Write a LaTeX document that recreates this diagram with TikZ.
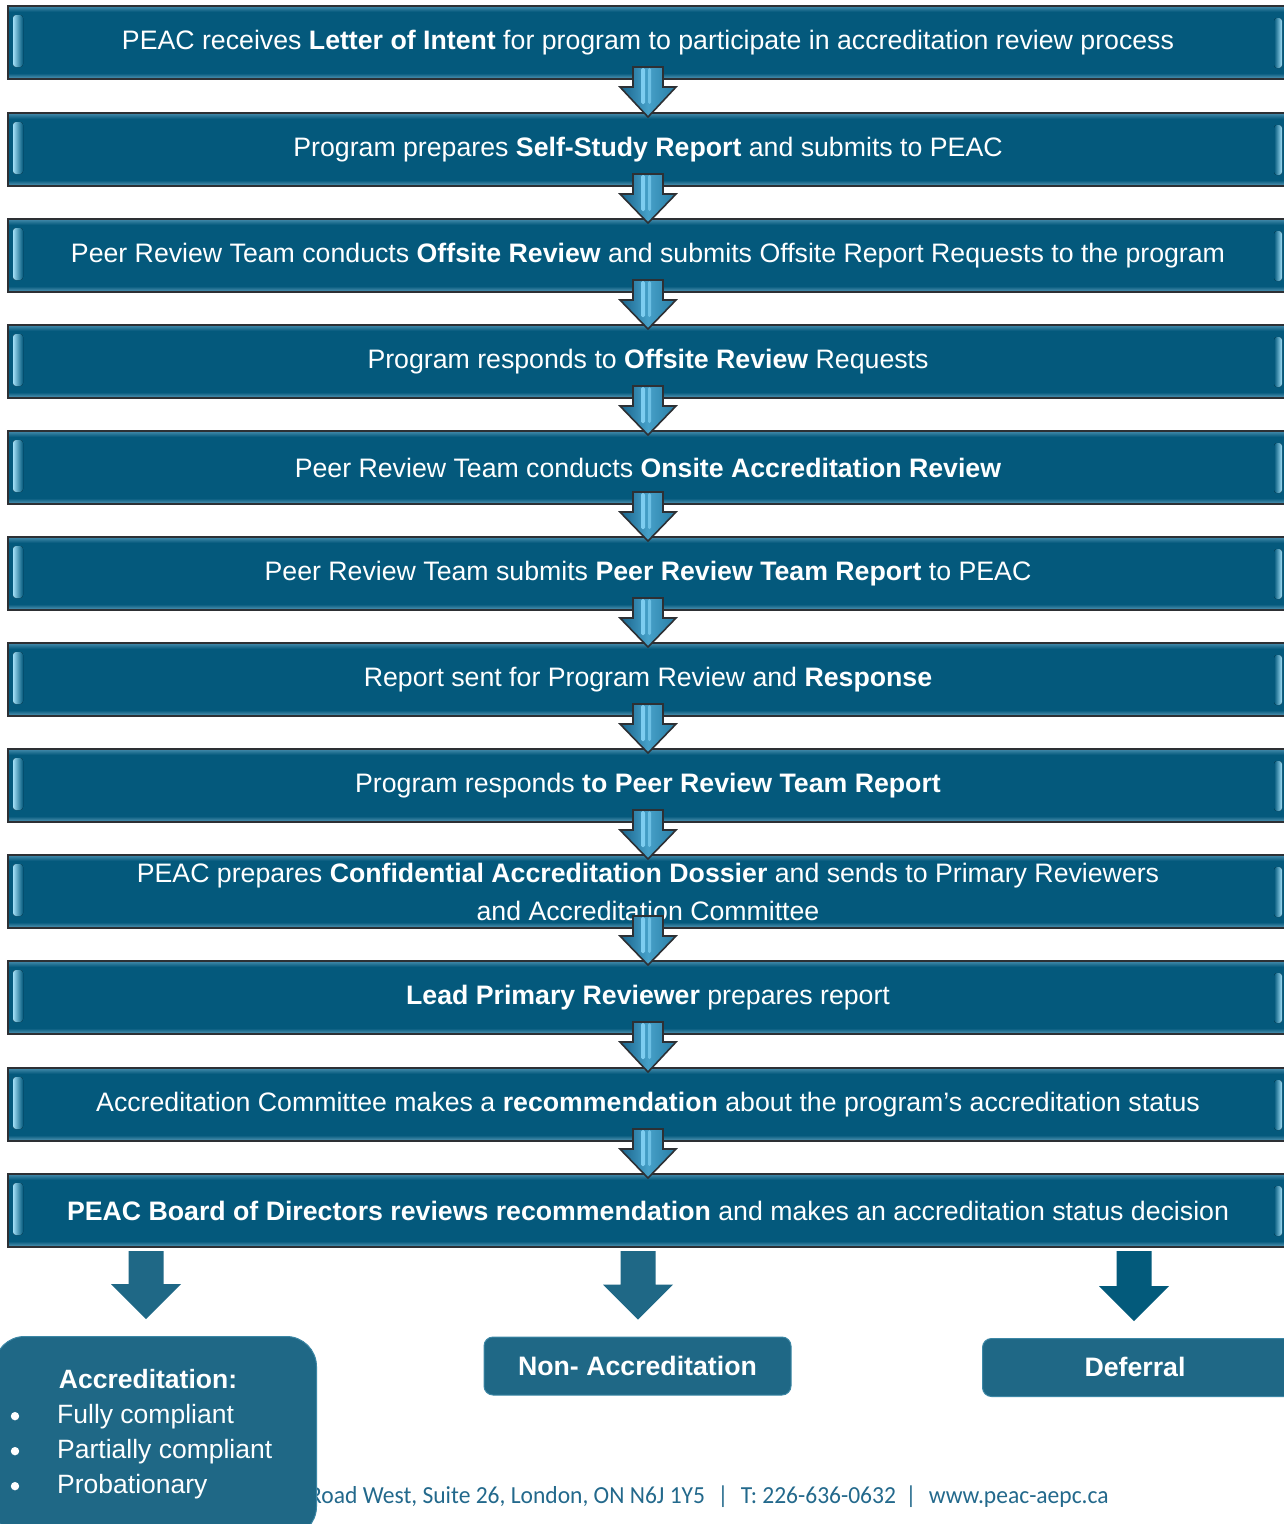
\documentclass[tikz,border=0pt]{standalone}
\usepackage{fontspec}
\setmainfont{Liberation Sans}
\newfontfamily\footfont{Carlito}
\usetikzlibrary{calc}
\definecolor{bmain}{RGB}{4,89,124}
\definecolor{btop}{RGB}{70,140,172}
\definecolor{bbot}{RGB}{90,155,185}
\definecolor{bline}{RGB}{45,48,52}
\definecolor{bevl}{RGB}{160,222,246}
\definecolor{boxc}{RGB}{31,104,134}
\definecolor{boxedge}{RGB}{60,135,165}
\definecolor{darkarrow}{RGB}{3,90,123}
\definecolor{arrL}{RGB}{25,100,140}
\definecolor{arrM}{RGB}{70,160,200}
\definecolor{arrR}{RGB}{40,125,165}
\definecolor{hl}{RGB}{125,205,240}
\definecolor{foot}{RGB}{35,105,140}
\pgfdeclareverticalshading{bannershade}{100bp}{color(0bp)=(bbot); color(25bp)=(bbot); color(29bp)=(bmain); color(71bp)=(bmain); color(75bp)=(btop); color(100bp)=(btop)}
\tikzset{
  banner/.style={draw=bline, line width=2pt, shading=bannershade, minimum width=1280pt,
    minimum height=73pt, anchor=north west, inner sep=0pt, text=white, align=center,
    font=\fontsize{26.7}{38}\selectfont},
  flowarrow/.style={draw=bline, line width=1.6pt, line join=miter, left color=arrL, right color=arrR, middle color=arrM},
  outbox/.style={fill=boxc, draw=boxedge, line width=1pt, rounded corners=9pt, text=white,
    font=\fontsize{26.7}{30}\selectfont\bfseries, inner sep=0pt},
  boxtext/.style={text=white, font=\fontsize{26.5}{30}\selectfont, inner sep=0pt},
}
\newcommand{\stepArrow}[2]{%
  \draw[flowarrow] ($(#1.south)+(-15,-13)$) -- ($(#1.south)+(-15,7)$) -- ($(#1.south)+(-28,7)$)
    -- ($(#2.north)+(0,5)$) -- ($(#1.south)+(28,7)$) -- ($(#1.south)+(15,7)$)
    -- ($(#1.south)+(15,-13)$) -- cycle;
  \fill[hl, rounded corners=1.5pt] ($(#1.south)+(-7,-12)$) rectangle ($(#1.south)+(-3,24)$);
  \fill[hl!70!arrM, rounded corners=1.5pt] ($(#1.south)+(0,-12)$) rectangle ($(#1.south)+(3,24)$);
}
\newcommand{\outArrow}[4]{% x, from, to, colour
  \fill[#4] ($(#1,0 |- #2.south)+(-17.5,3)$) -- ($(#1,0 |- #3.north)+(-17.5,-52)$)
    -- ($(#1,0 |- #3.north)+(-35,-52)$) -- ($(#1,0 |- #3.north)+(0,-17)$)
    -- ($(#1,0 |- #3.north)+(35,-52)$) -- ($(#1,0 |- #3.north)+(17.5,-52)$)
    -- ($(#1,0 |- #2.south)+(17.5,3)$) -- cycle;
}
\begin{document}
\begin{tikzpicture}[x=1pt, y=-1pt]
\useasboundingbox (0,0) rectangle (1283,1524);
\fill[white] (0,0) rectangle (1283,1524);

\node[banner] (b1) at (7,5) {PEAC receives \textbf{Letter of Intent} for program to participate in accreditation review process};
\node[banner] (b2) at (7,112) {Program prepares \textbf{Self-Study Report} and submits to PEAC};
\node[banner] (b3) at (7,218) {Peer Review Team conducts \textbf{Offsite Review} and submits Offsite Report Requests to the program};
\node[banner] (b4) at (7,324) {Program responds to \textbf{Offsite Review} Requests};
\node[banner] (b5) at (7,430) {Peer Review Team conducts \textbf{Onsite Accreditation Review}};
\node[banner] (b6) at (7,536) {Peer Review Team submits \textbf{Peer Review Team Report} to PEAC};
\node[banner] (b7) at (7,642) {Report sent for Program Review and \textbf{Response}};
\node[banner] (b8) at (7,748) {Program responds \textbf{to Peer Review Team Report}};
\node[banner] (b9) at (7,854) {PEAC prepares \textbf{Confidential Accreditation Dossier} and sends to Primary Reviewers\\and Accreditation Committee};
\node[banner] (b10) at (7,960) {\textbf{Lead Primary Reviewer} prepares report};
\node[banner] (b11) at (7,1067) {Accreditation Committee makes a \textbf{recommendation} about the program’s accreditation status};
\node[banner] (b12) at (7,1173) {\textbf{PEAC Board of Directors reviews recommendation} and makes an accreditation status decision};

\foreach \n in {1,...,12} {
  \fill[rounded corners=3pt, left color=bevl, right color=bmain] ($(b\n.north west)+(6,10)$) rectangle ($(b\n.north west)+(16,62)$);
  \fill[rounded corners=3pt, left color=bmain, right color=bevl] ($(b\n.north east)+(-15,13)$) rectangle ($(b\n.north east)+(-7,63)$);
}
\foreach \a/\b in {1/2,2/3,3/4,4/5,5/6,6/7,7/8,8/9,9/10,10/11,11/12} {
  \stepArrow{b\a}{b\b}
}

% footer
\node[anchor=base west, inner sep=0pt, text=foot, font=\footfont\fontsize{24.5}{28}\selectfont, xscale=0.96] (foot) at (309,1503)
  {Road West, Suite 26, London, ON N6J 1Y5\hspace{13pt}|\hspace{13pt}T: 226-636-0632\hspace{10pt}|\hspace{13pt}www.peac-aepc.ca};

% outcome boxes
\node[outbox, rounded corners=30pt, minimum width=322pt, minimum height=200pt, anchor=north west] (acc) at (-6,1336) {};
\node[boxtext, font=\fontsize{26.5}{30}\selectfont\bfseries] (acct) at (148,1379) {Accreditation:};
\node[boxtext, anchor=base west] (i1) at (57,1423) {Fully compliant};
\node[boxtext, anchor=base west] (i2) at (57,1458) {Partially compliant};
\node[boxtext, anchor=base west] (i3) at (57,1493) {Probationary};
\foreach \i in {i1,i2,i3} { \fill[white] (15,0 |- \i.center) circle (4.2pt); }

\node[outbox, minimum width=307pt, minimum height=58pt] (non) at (637.5,1366) {Non- Accreditation};
\node[outbox, minimum width=320pt, minimum height=58pt, anchor=north west] (def) at (982,1338) {};
\node[boxtext, font=\fontsize{26.7}{30}\selectfont\bfseries] (deft) at (1135,1367) {Deferral};

\outArrow{146}{b12}{acc}{boxc}
\outArrow{638}{b12}{non}{boxc}
\outArrow{1134}{b12}{def}{darkarrow}
\end{tikzpicture}
\end{document}
